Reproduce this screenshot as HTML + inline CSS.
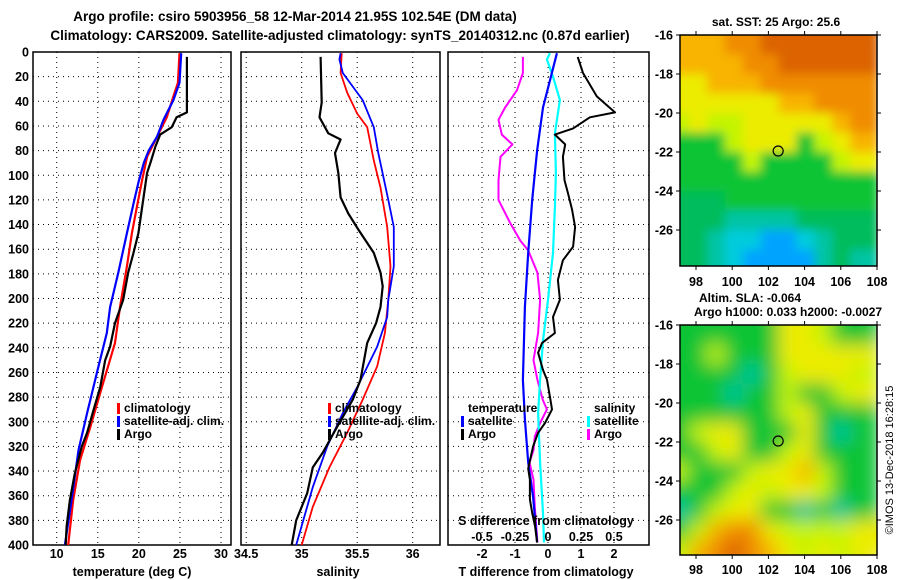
<!DOCTYPE html>
<html><head><meta charset="utf-8"><style>
body{margin:0;background:#fff;}
svg{display:block;font-family:"Liberation Sans",sans-serif;font-weight:bold;}
</style></head><body>
<svg id="fig" width="900" height="580" viewBox="0 0 900 580">
<text x="295" y="21" font-size="13.5" text-anchor="middle">Argo profile: csiro 5903956_58 12-Mar-2014 21.95S 102.54E (DM data)</text>
<text x="340" y="40" font-size="13.5" text-anchor="middle">Climatology: CARS2009. Satellite-adjusted climatology: synTS_20140312.nc (0.87d earlier)</text>
<g id="plots"></g>
<text transform="translate(893,460) rotate(-90)" font-size="11" font-weight="normal" text-anchor="middle">©IMOS 13-Dec-2018 16:28:15</text>
</svg>
<script>
// ---- data ----
const depthTicks=[0,20,40,60,80,100,120,140,160,180,200,220,240,260,280,300,320,340,360,380,400];
const tempTicks=[10,15,20,25,30];
const salTicks=[34.5,35,35.5,36];
const tdiffTicks=[-2,-1,0,1,2];
const sdiffTicks=[-0.5,-0.25,0,0.25,0.5];
const tArgoD=[4,49,51,53,61,67,77,90,98,126,147,163,179,201,220,239,250,272,290,309,320,342,364,385,400];
const tArgoV=[25.85,25.85,25.2,24.6,24.0,22.6,22.0,21.4,21.0,20.4,19.95,19.35,18.7,18.1,17.1,16.5,15.9,15.3,14.5,13.7,13.05,12.2,11.6,11.2,11.1];
const tClimD=[1,25,36,53,69,85,104,126,147,174,207,236,272,304,331,364,400];
const tClimV=[24.95,24.75,24.2,23.4,22.2,21.0,20.4,19.75,19.15,18.55,17.7,17.1,15.5,14.1,12.85,12.0,11.4];
const tSatD=[1,25,39,55,69,80,90,106,123,147,179,207,228,260,293,323,364,400];
const tSatV=[25.15,24.95,24.2,23.0,22.2,21.2,20.6,19.95,19.35,18.55,17.5,16.5,16.1,14.9,13.7,12.65,11.8,11.0];
const sArgoD=[4,41,53,66,71,82,98,118,131,144,163,179,190,207,220,236,266,282,304,325,337,358,380,400];
const sArgoV=[35.17,35.18,35.16,35.24,35.35,35.30,35.33,35.35,35.42,35.51,35.65,35.71,35.73,35.71,35.67,35.59,35.53,35.46,35.32,35.19,35.10,35.05,34.95,34.91];
const sClimD=[1,17,33,50,61,88,110,142,174,201,228,255,282,309,337,369,400];
const sClimV=[35.36,35.35,35.41,35.50,35.59,35.65,35.71,35.77,35.80,35.78,35.75,35.68,35.55,35.41,35.25,35.10,35.0];
const sSatD=[1,6,17,39,61,82,120,142,174,201,215,239,272,293,320,353,400];
const sSatV=[35.35,35.34,35.37,35.55,35.65,35.69,35.78,35.83,35.83,35.78,35.77,35.68,35.50,35.37,35.23,35.10,34.95];
const dTArgoD=[4,17,36,49,53,62,67,75,85,104,114,128,142,158,169,185,201,215,228,236,244,258,266,280,290,301,309,320,338,347,363,374,385,398];
const dTArgoV=[0.9,1.06,1.48,2.03,1.27,0.76,0.21,0.52,0.45,0.5,0.6,0.73,0.82,0.76,0.45,0.3,0.36,0.15,0.21,-0.18,-0.3,-0.15,-0.03,0.06,0.12,-0.09,-0.3,-0.45,-0.6,-0.55,-0.55,-0.48,-0.39,-0.33];
const dTSatD=[1,23,45,80,120,163,207,266,298,333,361,398];
const dTSatV=[0.27,0.06,-0.15,-0.33,-0.48,-0.6,-0.7,-0.76,-0.7,-0.6,-0.45,-0.33];
const dSSatD=[1,6,20,39,66,98,126,163,201,234,266,293,333,374,398];
const dSSatV=[0.015,-0.008,0.038,0.09,0.052,0.06,0.052,0.038,0,-0.038,-0.06,-0.075,-0.06,-0.038,-0.03];
const dSArgoD=[4,17,31,45,55,67,75,85,104,120,138,153,161,179,201,228,250,266,282,290,301,312,323,333,347,369,398];
const dSArgoV=[-0.19,-0.19,-0.235,-0.325,-0.375,-0.35,-0.27,-0.36,-0.375,-0.375,-0.29,-0.21,-0.15,-0.08,-0.06,-0.075,-0.11,-0.08,-0.04,-0.008,-0.06,-0.1,-0.11,-0.14,-0.11,-0.1,-0.08];
const sstGrid=["aaaooOOOOOO","aaaaooOOOOO","yyaaaoooooo","yyyyyyaaooo","lyllyyyyyao","GGGlyyyGlya","GGGGlGGGGly","GGGGGGGGGGG","mmmGGGGGGGG","mmmttttmmmm","mmtccbbctmm","mmtcbbbbtmt"];
const slaGrid=["GGGGGGyylGG","GGlGGGyyyyy","GGGGtGlyyyl","GGGtGGlGGly","GGGGGGlyGGG","GlyyGGGyGtG","GGlyGGlyGGG","lGGGlyyalGG","GGGlylyylGG","tGlyyGGtGtG","Glaooyllllyy","laoOoaylyly"];
const latTicks=[-16,-18,-20,-22,-24,-26];
const lonTicks=[98,100,102,104,106,108];
const argoLon=102.54, argoLat=-21.95;

// ---- helpers ----
const NS="http://www.w3.org/2000/svg";
const root=document.getElementById('plots');
function mk(tag,attrs,parent){const e=document.createElementNS(NS,tag);for(const k in attrs)e.setAttribute(k,attrs[k]);(parent||root).appendChild(e);return e;}
const Y0=52,Y1=545;
const yD=d=>Y0+(Y1-Y0)*d/400;
function lin(a,b,pa,pb){return v=>pa+(v-a)*(pb-pa)/(b-a);}
const xT=lin(10,30,56.7,221), xS=lin(35,36,301.7,412.7), xDT=lin(0,1,548,581), xDS=lin(0,0.25,548,581);

function panel(name,x0,x1,xf,xticks,fmt,labY){
  const g=mk('g',{});
  
  
  depthTicks.forEach(d=>{if(d>0&&d<400){const l=mk('line',{x1:x0,x2:x1,y1:yD(d),y2:yD(d),stroke:'#000','stroke-width':1,'stroke-dasharray':'1,4'},g);}});
  xticks.forEach(v=>{const x=xf(v);if(x>x0+2&&x<x1-2){const l=mk('line',{x1:x,x2:x,y1:Y0,y2:Y1,stroke:'#000','stroke-width':1,'stroke-dasharray':'1,4'},g);}
    if(labY){const t=mk('text',{x:x,y:labY,'font-size':12.5,'text-anchor':'middle'},g);t.textContent=fmt(v);}});
  const r=mk('rect',{x:x0,y:Y0,width:x1-x0,height:Y1-Y0,fill:'none',stroke:'#000','stroke-width':1.5},g);
  
  return g;
}
function series(g,D,V,xf,color,w,name){
  const p=mk('polyline',{points:D.map((d,i)=>xf(V[i]).toFixed(1)+','+yD(d).toFixed(1)).join(' '),fill:'none',stroke:color,'stroke-width':w,'stroke-linejoin':'round'},g);
  
}
function txt(g,x,y,s,size,anchor,name,extra){const t=mk('text',Object.assign({x:x,y:y,'font-size':size,'text-anchor':anchor||'start'},extra||{}),g);t.textContent=s;return t;}
function legend(g,x,y,color,label,name){
  const b=mk('rect',{x:x,y:y-9,width:3,height:11,fill:color},g);
  
  txt(g,x+7,y,label,12,'start',name+'-label');
}

// y-axis labels
const ya=mk('g',{});


depthTicks.forEach(d=>txt(ya,29,yD(d)+4.5,String(d),12.5,'end','y-tick-label'));

// panel 1
const p1=panel('temperature-panel',33,231,xT,tempTicks,v=>String(v),558);
series(p1,tClimD,tClimV,xT,'#ff0000',2.2,'temp-climatology-line');
series(p1,tSatD,tSatV,xT,'#0000ff',2.2,'temp-satellite-line');
series(p1,tArgoD,tArgoV,xT,'#000000',2.2,'temp-argo-line');
txt(p1,132,576,'temperature (deg C)',12.5,'middle','x-axis-title-temperature');
legend(p1,117,412,'#ff0000','climatology','legend-climatology');
legend(p1,117,425,'#0000ff','satellite-adj. clim.','legend-satellite-adj');
legend(p1,117,438,'#000000','Argo','legend-argo');

// panel 2
const p2=panel('salinity-panel',241,440,xS,salTicks,v=>String(v),558);
series(p2,sClimD,sClimV,xS,'#ff0000',1.8,'sal-climatology-line');
series(p2,sSatD,sSatV,xS,'#0000ff',1.8,'sal-satellite-line');
series(p2,sArgoD,sArgoV,xS,'#000000',2.2,'sal-argo-line');
txt(p2,338,576,'salinity',12.5,'middle','x-axis-title-salinity');
legend(p2,328,412,'#ff0000','climatology','legend-climatology');
legend(p2,328,425,'#0000ff','satellite-adj. clim.','legend-satellite-adj');
legend(p2,328,438,'#000000','Argo','legend-argo');

// panel 3
const p3=panel('difference-panel',448,649,xDT,tdiffTicks,v=>String(v),558);
series(p3,dSArgoD,dSArgoV,xDS,'#ff00ff',2,'sdiff-argo-line');
series(p3,dSSatD,dSSatV,xDS,'#00ffff',2.2,'sdiff-satellite-line');
series(p3,dTSatD,dTSatV,xDT,'#0000ff',2.2,'tdiff-satellite-line');
series(p3,dTArgoD,dTArgoV,xDT,'#000000',2,'tdiff-argo-line');
sdiffTicks.forEach(v=>txt(p3,xDS(v),541,String(v),12.5,'middle','s-tick-label'));
txt(p3,546,525,'S difference from climatology',12.5,'middle','s-axis-title');
txt(p3,546,576,'T difference from climatology',12.5,'middle','t-axis-title');
txt(p3,468,412,'temperature',12,'start','legend-temperature-header');
legend(p3,461,425,'#0000ff','satellite','legend-t-satellite');
legend(p3,461,438,'#000000','Argo','legend-t-argo');
txt(p3,594,412,'salinity',12,'start','legend-salinity-header');
legend(p3,587,425,'#00ffff','satellite','legend-s-satellite');
legend(p3,587,438,'#ff00ff','Argo','legend-s-argo');

// maps
const pal={O:'#dc6400',o:'#f08c00',a:'#f8b400',y:'#ecec00',l:'#c4f400',g:'#70e000',G:'#0cc434',m:'#00bc5c',t:'#00c4a4',c:'#00ccdc',b:'#00a4ff'};
const MX0=680,MX1=877,lonX=lin(98,108,696,877);
function map(name,top,bottom,grid,blur,title,extraTitles,lonLabY){
  const g=mk('g',{});
  
  
  const latY=lin(-16,-26,top,top+195);
  const id='clip-'+name;
  const defs=mk('defs',{},g);
  const cp=mk('clipPath',{id:id},defs);mk('rect',{x:MX0,y:top,width:MX1-MX0,height:bottom-top},cp);
  const f=mk('filter',{id:'f-'+name,x:'-10%',y:'-10%',width:'120%',height:'120%'},defs);mk('feGaussianBlur',{stdDeviation:blur},f);
  const img=mk('g',{'clip-path':'url(#'+id+')'},g);
  
  const inner=mk('g',{filter:'url(#f-'+name+')'},img);
  const cw=(MX1-MX0)/11, ch=19.5;
  grid.forEach((row,r)=>{for(let c=0;c<row.length;c++){mk('rect',{x:MX0+(c-0.5)*cw+(c==0?-cw:0),y:top+r*ch-(r==0?ch:0),width:cw*(c==0?2.6:1.6),height:ch*(r==0?2.6:1.6),fill:pal[row[c]]},inner);}});
  const fr=mk('rect',{x:MX0,y:top,width:MX1-MX0,height:bottom-top,fill:'none',stroke:'#000','stroke-width':1.5},g);
  
  latTicks.forEach(v=>{const y=latY(v);mk('line',{x1:MX0-4,x2:MX0,y1:y,y2:y,stroke:'#000'},g);mk('line',{x1:MX1,x2:MX1+4,y1:y,y2:y,stroke:'#000'},g);txt(g,673,y+4.5,String(v),12.5,'end','lat-tick-label');});
  lonTicks.forEach(v=>{const x=lonX(v);mk('line',{x1:x,x2:x,y1:bottom,y2:bottom+4,stroke:'#000'},g);mk('line',{x1:x,x2:x,y1:top-4,y2:top,stroke:'#000'},g);txt(g,x,lonLabY,String(v),12.5,'middle','lon-tick-label');});
  const c=mk('circle',{cx:lonX(argoLon),cy:latY(argoLat),r:5,fill:'none',stroke:'#000','stroke-width':1.2},g);
  
  txt(g,title[1],title[2],title[0],12,'middle',name+'-title');
  extraTitles.forEach(t=>txt(g,t[1],t[2],t[0],12,'middle',name+'-subtitle'));
}
map('sst-map',35,266,sstGrid,5,['sat. SST: 25 Argo: 25.6',776,26],[],286);
map('sla-map',325,555,slaGrid,9,['Altim. SLA: -0.064',750,302],[['Argo h1000: 0.033 h2000: -0.0027',788,316]],574);
</script>
</body></html>
